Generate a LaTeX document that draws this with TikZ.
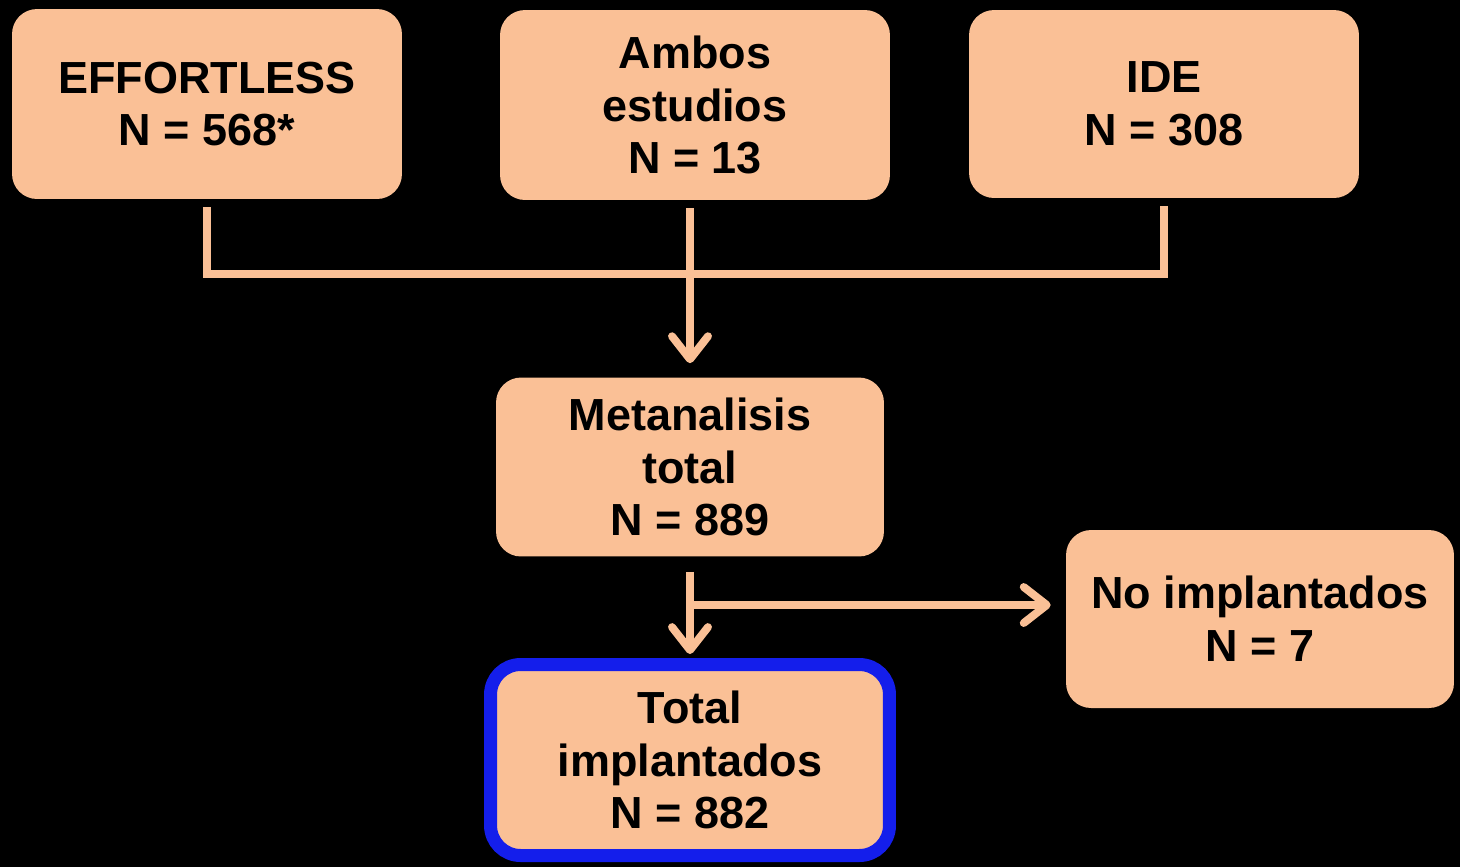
\documentclass[tikz,border=0pt]{standalone}
\usepackage{fontspec}
\setmainfont{Liberation Sans}
\usetikzlibrary{arrows.meta}

\definecolor{peach}{RGB}{250,192,150}
\definecolor{boxblue}{RGB}{20,30,235}

\begin{document}
\begin{tikzpicture}[x=0.02cm,y=-0.02cm,
    box/.style={fill=peach, rounded corners=0.5cm, inner sep=0pt,
        align=center, font=\fontsize{25.6}{30}\selectfont\bfseries,
        minimum width=7.8cm, minimum height=3.8cm},
    conn/.style={draw=peach, line width=4.5pt, line join=miter},
    arr/.style={conn, -{Straight Barb[length=0.46cm,width=0.72cm,round]}}
]

    % Black page
    \fill[black] (0,0) rectangle (1460,867);

    % The three source boxes
    \node[box] (effortless) at (207,104) {EFFORTLESS\\N = 568*};
    \node[box] (ambos) at (695,105) {Ambos\\estudios\\N = 13};
    \node[box, minimum height=3.76cm] (ide) at (1164,104) {IDE\\N = 308};

    % Pooled result and its two outcomes
    \node[box, minimum width=7.76cm, minimum height=3.58cm] (meta) at (690,467)
        {Metanalisis\\total\\N = 889};
    \node[box, minimum width=7.76cm, minimum height=3.56cm] (noimpl) at (1260,619)
        {No implantados\\N = 7};
    \node[box, draw=boxblue, line width=7.4pt, rounded corners=0.6cm,
        minimum width=7.98cm, minimum height=3.82cm] (total) at (690,760)
        {Total\\implantados\\N = 882};

    % Junction points of the connectors
    \coordinate (join) at (690,274);
    \coordinate (split) at (690,605);

    % Bracket joining the outer boxes
    \draw[conn] ([yshift=-0.16cm]effortless.south) -- (effortless.south |- join)
        -- (ide.south |- join) -- ([yshift=-0.16cm]ide.south);

    % Arrow down into the pooled box
    \draw[arr, shorten >=0.28cm] ([yshift=-0.16cm]meta.north |- ambos.south) -- (meta.north);

    % Arrows out of the pooled box
    \draw[arr, shorten >=0.08cm] ([yshift=-0.3cm]meta.south) -- (total.north);
    \draw[arr, shorten >=0.3cm] (split) -- (noimpl.west |- split);

\end{tikzpicture}
\end{document}
